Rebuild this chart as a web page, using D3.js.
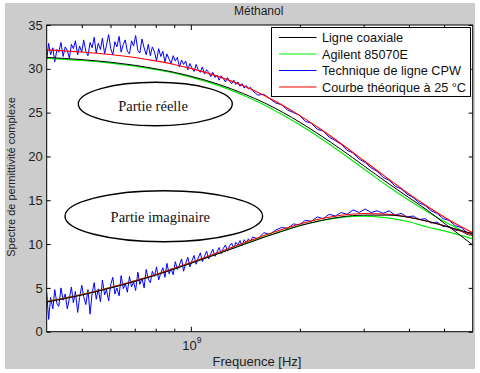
<!DOCTYPE html>
<html>
<head>
<meta charset="utf-8">
<script src="https://cdn.jsdelivr.net/npm/d3@7"></script>
<style>
  body { margin: 0; background: #fff; }
  svg { display: block; }
</style>
</head>
<body>
<div id="chart"></div>
<script>
// Frequency grid (Hz) for the smooth series
const freqs = [4e8, 5e8, 6e8, 7e8, 8e8, 9e8, 1e9, 1.2e9, 1.4e9, 1.6e9, 1.8e9, 2e9,
    2.3e9, 2.6e9, 3e9, 3.5e9, 4e9, 4.5e9, 5e9, 5.5e9, 6e9];

// Courbe theorique a 25 C
const theoReal = [32.16, 31.92, 31.63, 31.29, 30.91, 30.50, 30.05, 29.08, 28.03, 26.92, 25.79, 24.66,
    23.01, 21.45, 19.54, 17.47, 15.73, 14.29, 13.10, 12.11, 11.29];
const theoImag = [3.43, 4.24, 5.04, 5.80, 6.53, 7.23, 7.89, 9.09, 10.13, 11.00, 11.72, 12.30,
    12.92, 13.29, 13.49, 13.40, 13.07, 12.61, 12.09, 11.55, 11.01];

// Agilent 85070E
const agilReal = [31.2, 30.95, 30.65, 30.3, 29.9, 29.5, 29.05, 28.05, 26.95, 25.85, 24.7, 23.6,
    22.0, 20.45, 18.6, 16.6, 15.0, 13.7, 12.6, 11.7, 10.9];
const agilImag = [3.45, 4.25, 5.05, 5.8, 6.5, 7.2, 7.85, 9.0, 10.0, 10.85, 11.55, 12.1,
    12.7, 13.05, 13.2, 13.0, 12.55, 11.95, 11.5, 11.05, 10.6];

// Ligne coaxiale
const coaxReal = [31.3, 31.05, 30.75, 30.4, 30.0, 29.6, 29.15, 28.2, 27.15, 26.1, 25.0, 23.9,
    22.3, 20.8, 18.95, 16.95, 15.3, 13.85, 12.4, 11.1, 9.9];
const coaxImag = [3.38, 4.18, 4.98, 5.73, 6.45, 7.15, 7.8, 8.95, 9.95, 10.8, 11.5, 12.1,
    12.7, 13.1, 13.3, 13.3, 13.05, 12.6, 12.1, 11.6, 11.2];

// Technique de ligne CPW (MHz, measured, noisy)
const cpwFreqMHz = [400, 405, 410, 416, 421, 427, 432, 438, 444, 450,
    456, 462, 468, 474, 480, 487, 493, 500, 506, 513,
    520, 527, 534, 541, 548, 555, 563, 570, 578, 585,
    593, 601, 609, 617, 625, 634, 642, 651, 659, 668,
    677, 686, 695, 704, 714, 723, 733, 743, 753, 763,
    773, 783, 794, 804, 815, 826, 837, 848, 859, 871,
    882, 894, 906, 918, 930, 943, 955, 968, 981, 994,
    1007, 1021, 1034, 1048, 1062, 1076, 1091, 1105, 1120, 1135,
    1150, 1166, 1181, 1197, 1213, 1229, 1246, 1262, 1279, 1296,
    1314, 1331, 1349, 1367, 1385, 1404, 1423, 1442, 1461, 1480,
    1530, 1590, 1650, 1715, 1780, 1850, 1920, 1995, 2070, 2150, 2235, 2320, 2410, 2505, 2600,
    2700, 2805, 2915, 3030, 3145, 3270, 3395, 3525, 3665, 3805, 3955, 4110, 4270, 4435, 4605,
    4785, 4970, 5165, 5365, 5575, 5790, 6000];
const cpwReal = [31.0, 32.9, 31.6, 32.4, 30.8, 32.2, 31.9, 33.0, 31.4, 32.5,
    32.1, 31.2, 32.8, 32.3, 33.2, 31.6, 32.6, 31.9, 33.3, 32.0,
    31.5, 33.0, 32.4, 33.6, 31.8, 32.9, 32.2, 33.5, 31.7, 32.7,
    33.9, 32.3, 31.6, 33.1, 32.5, 33.7, 31.9, 32.8, 33.3, 32.0,
    31.7, 33.2, 32.6, 33.8, 32.1, 31.8, 33.4, 32.4, 31.6, 32.8,
    31.5, 32.5, 31.9, 30.9, 32.3, 31.4, 32.0, 30.8, 31.7, 31.1,
    30.6, 31.5, 30.9, 31.3, 30.2, 31.0, 30.5, 30.9, 29.9, 30.6,
    30.1, 29.7, 30.5, 29.9, 29.6, 30.2, 29.4, 29.9, 29.6, 29.1,
    29.6, 29.0, 29.3, 28.7, 29.2, 28.9, 28.5, 29.0, 28.6, 28.3,
    28.7, 28.2, 28.5, 28.0, 28.3, 27.8, 28.1, 27.7, 27.9, 27.5,
    27.0, 27.1, 26.6, 26.1, 25.9, 25.3, 25.0, 24.7, 24.0, 23.8, 23.1, 22.9, 22.2, 21.8, 21.4,
    20.7, 20.4, 19.7, 19.3, 18.7, 18.3, 17.6, 17.3, 16.6, 16.3, 15.7, 15.3, 14.7, 14.4, 13.8,
    13.5, 12.9, 12.7, 12.1, 11.9, 11.3, 11.2];
const cpwImag = [4.5, 1.4, 3.9, 2.6, 4.8, 3.2, 2.9, 5.0, 3.6, 4.3,
    2.6, 3.8, 5.1, 3.3, 4.6, 2.2, 3.9, 5.3, 4.0, 3.1,
    4.8, 2.0, 4.4, 5.6, 3.7, 4.9, 3.4, 5.9, 4.2, 4.8,
    3.5, 5.4, 6.2, 4.3, 5.0, 4.1, 6.4, 4.9, 5.5, 4.5,
    6.3, 5.1, 5.7, 4.7, 6.8, 5.4, 6.1, 5.0, 7.1, 6.0,
    5.6, 6.9, 6.3, 7.4, 5.9, 6.7, 7.3, 6.2, 7.8, 6.6,
    7.2, 6.5, 8.0, 7.1, 7.6, 8.3, 6.9, 7.8, 8.5, 7.4,
    8.1, 8.7, 7.7, 8.4, 9.0, 8.0, 8.6, 9.2, 8.3, 8.9,
    9.4, 8.6, 9.1, 9.6, 8.9, 9.5, 9.9, 9.2, 9.8, 10.1,
    9.5, 10.2, 9.9, 10.4, 9.8, 10.5, 10.1, 10.6, 10.3, 10.8,
    10.6, 11.3, 11.1, 11.6, 11.9, 11.8, 12.3, 12.2, 12.7, 12.6, 13.1, 12.9, 13.4, 13.2, 13.6,
    13.4, 13.9, 13.6, 14.0, 13.6, 13.8, 13.5, 13.8, 13.3, 13.5, 13.1, 13.2, 12.8, 12.9, 12.4,
    12.5, 12.0, 12.0, 11.6, 11.5, 11.1, 11.0];

const legendNames = ['Ligne coaxiale', 'Agilent 85070E', 'Technique de ligne CPW', 'Courbe théorique à 25 °C'];
const legendColors = ['#000000', '#00ee00', '#0000ff', '#ff0000'];

const yTicks = [0, 5, 10, 15, 20, 25, 30, 35];
const xMajor = [1e9];
const xMinor = [5e8, 6e8, 7e8, 8e8, 9e8, 2e9, 3e9, 4e9, 5e9];

const W = 480, H = 373;
const M = { left: 46.7, right: 472.7, top: 25, bottom: 331.7 };

const svg = d3.select('#chart').append('svg')
    .attr('width', W)
    .attr('height', H);

// figure background
svg.append('rect')
    .attr('x', 5).attr('y', 3)
    .attr('width', 470).attr('height', 366)
    .attr('fill', '#cccccc');

// axes area
svg.append('rect')
    .attr('x', M.left).attr('y', M.top)
    .attr('width', M.right - M.left).attr('height', M.bottom - M.top)
    .attr('fill', '#fff');

const x = d3.scaleLog().domain([4e8, 6e9]).range([M.left, M.right]);
const y = d3.scaleLinear().domain([0, 35]).range([M.bottom, M.top]);

svg.append('clipPath').attr('id', 'clip')
    .append('rect')
    .attr('x', M.left).attr('y', M.top)
    .attr('width', M.right - M.left).attr('height', M.bottom - M.top);

const plot = svg.append('g').attr('clip-path', 'url(#clip)');

const smooth = d3.line()
    .x(d => x(d[0]))
    .y(d => y(d[1]))
    .curve(d3.curveMonotoneX);
const raw = d3.line()
    .x(d => x(d[0]))
    .y(d => y(d[1]));

function drawSeries(fr, vals, color, lineGen, w) {
    plot.append('path')
        .datum(fr.map((f, i) => [f, vals[i]]))
        .attr('d', lineGen)
        .attr('fill', 'none')
        .attr('stroke', color)
        .attr('stroke-width', w);
}

const cpwFreq = cpwFreqMHz.map(f => f * 1e6);
// draw order: CPW, Agilent, theory, coax
drawSeries(cpwFreq, cpwReal, legendColors[2], raw, 1);
drawSeries(cpwFreq, cpwImag, legendColors[2], raw, 1);
drawSeries(freqs, agilReal, legendColors[1], smooth, 1.2);
drawSeries(freqs, agilImag, legendColors[1], smooth, 1.2);
drawSeries(freqs, theoReal, legendColors[3], smooth, 1.1);
drawSeries(freqs, theoImag, legendColors[3], smooth, 1.1);
drawSeries(freqs, coaxReal, legendColors[0], smooth, 1);
drawSeries(freqs, coaxImag, legendColors[0], smooth, 1);

// axes
function styleAxis(g) {
    g.selectAll('path').remove();
    g.selectAll('line').attr('stroke', '#000');
    g.selectAll('text')
        .attr('fill', '#222')
        .style('font-family', 'Liberation Sans, Arial, sans-serif')
        .style('font-size', '13px');
}

svg.append('g')
    .attr('transform', `translate(${M.left},0)`)
    .call(d3.axisLeft(y).tickValues(yTicks).tickSizeInner(-4).tickSizeOuter(0).tickPadding(4))
    .call(styleAxis);

svg.append('g')
    .attr('transform', `translate(${M.right},0)`)
    .call(d3.axisRight(y).tickValues(yTicks).tickSizeInner(-4).tickSizeOuter(0).tickFormat(''))
    .call(styleAxis);

svg.append('g')
    .attr('transform', `translate(0,${M.bottom})`)
    .call(d3.axisBottom(x).tickValues(xMinor).tickSizeInner(-3).tickSizeOuter(0).tickFormat(''))
    .call(styleAxis);

svg.append('g')
    .attr('transform', `translate(0,${M.bottom})`)
    .call(d3.axisBottom(x).tickValues(xMajor).tickSizeInner(-5).tickSizeOuter(0).tickFormat(''))
    .call(styleAxis);

svg.append('g')
    .attr('transform', `translate(0,${M.top})`)
    .call(d3.axisTop(x).tickValues(xMinor).tickSizeInner(-3).tickSizeOuter(0).tickFormat(''))
    .call(styleAxis);

svg.append('g')
    .attr('transform', `translate(0,${M.top})`)
    .call(d3.axisTop(x).tickValues(xMajor).tickSizeInner(-5).tickSizeOuter(0).tickFormat(''))
    .call(styleAxis);

// 10^9 label
const xl = svg.append('text')
    .attr('x', x(xMajor[0]) - 8.5)
    .attr('y', 350)
    .attr('fill', '#222')
    .style('font-family', 'Liberation Sans, Arial, sans-serif')
    .style('font-size', '13px');
xl.append('tspan').text('10');
xl.append('tspan').attr('dy', -7).style('font-size', '8.5px').text('9');

// box
svg.append('rect')
    .attr('x', M.left).attr('y', M.top)
    .attr('width', M.right - M.left).attr('height', M.bottom - M.top)
    .attr('fill', 'none')
    .attr('stroke', '#000')
    .attr('stroke-width', 1);

// title and axis labels
svg.append('text')
    .attr('x', (M.left + M.right) / 2 - 1)
    .attr('y', 15)
    .attr('text-anchor', 'middle')
    .attr('fill', '#222')
    .style('font-family', 'Liberation Sans, Arial, sans-serif')
    .style('font-size', '12px')
    .text('Méthanol');

svg.append('text')
    .attr('x', 257)
    .attr('y', 366)
    .attr('text-anchor', 'middle')
    .attr('fill', '#222')
    .style('font-family', 'Liberation Sans, Arial, sans-serif')
    .style('font-size', '13px')
    .text('Frequence [Hz]');

svg.append('text')
    .attr('transform', 'translate(15,177) rotate(-90)')
    .attr('text-anchor', 'middle')
    .attr('fill', '#222')
    .style('font-family', 'Liberation Sans, Arial, sans-serif')
    .style('font-size', '11px')
    .text('Spectre de permittivité complexe');

// legend
const lg = svg.append('g').attr('transform', 'translate(271.5,27.5)');
lg.append('rect')
    .attr('width', 199).attr('height', 69)
    .attr('fill', '#fff')
    .attr('stroke', '#000')
    .attr('stroke-width', 1);
const rows = lg.selectAll('g.row')
    .data(legendNames)
    .join('g')
    .attr('class', 'row')
    .attr('transform', (d, i) => `translate(0,${10 + i * 16.5})`);
rows.append('line')
    .attr('x1', 7.5).attr('x2', 45)
    .attr('stroke', (d, i) => legendColors[i])
    .attr('stroke-width', 1.2);
rows.append('text')
    .attr('x', 50.5)
    .attr('y', 4.5)
    .attr('fill', '#111')
    .style('font-family', 'Liberation Sans, Arial, sans-serif')
    .style('font-size', '12.7px')
    .text(d => d);

// annotation ellipses
const notes = [
    { label: 'Partie réelle', cx: 155.3, cy: 104, rx: 77, ry: 21.7, tx: 153, ty: 111 },
    { label: 'Partie imaginaire', cx: 163.8, cy: 216.2, rx: 98.8, ry: 25.5, tx: 160.3, ty: 222 }
];
notes.forEach(n => {
    svg.append('ellipse')
        .attr('cx', n.cx).attr('cy', n.cy)
        .attr('rx', n.rx).attr('ry', n.ry)
        .attr('fill', '#fff')
        .attr('stroke', '#000')
        .attr('stroke-width', 1.4);
    svg.append('text')
        .attr('x', n.tx).attr('y', n.ty)
        .attr('text-anchor', 'middle')
        .attr('fill', '#111')
        .style('font-family', 'Liberation Serif, Times New Roman, serif')
        .style('font-size', '14.5px')
        .text(n.label);
});
</script>
</body>
</html>
